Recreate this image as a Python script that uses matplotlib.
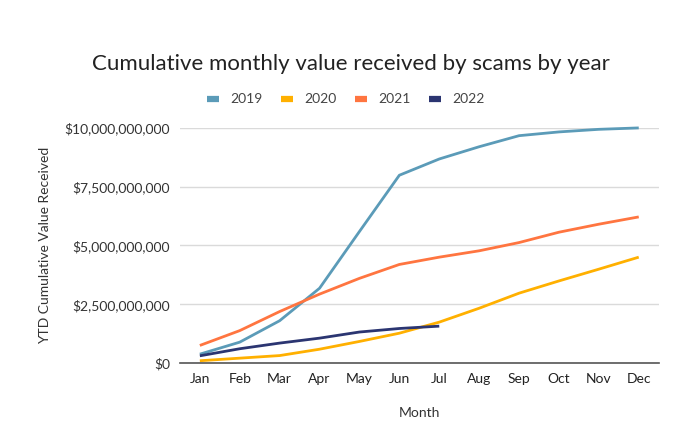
import matplotlib
matplotlib.use("Agg")
import matplotlib.pyplot as plt
from matplotlib.ticker import FuncFormatter

months = ["Jan", "Feb", "Mar", "Apr", "May", "Jun", "Jul", "Aug", "Sep", "Oct", "Nov", "Dec"]
v2019 = [0.38e9, 0.89e9, 1.80e9, 3.18e9, 5.59e9, 7.98e9, 8.67e9, 9.19e9, 9.66e9, 9.82e9, 9.93e9, 9.99e9]
v2020 = [0.10e9, 0.21e9, 0.32e9, 0.59e9, 0.92e9, 1.27e9, 1.74e9, 2.33e9, 2.97e9, 3.49e9, 3.99e9, 4.50e9]
v2021 = [0.75e9, 1.38e9, 2.19e9, 2.93e9, 3.60e9, 4.19e9, 4.50e9, 4.77e9, 5.12e9, 5.56e9, 5.90e9, 6.21e9]
v2022 = [0.31e9, 0.61e9, 0.85e9, 1.06e9, 1.32e9, 1.47e9, 1.57e9]
series = [("2019", v2019, "#5B9BB8"), ("2020", v2020, "#FFB000"),
          ("2021", v2021, "#FF7540"), ("2022", v2022, "#2B3571")]
yticks = [0, 2.5e9, 5e9, 7.5e9, 10e9]

plt.rcParams['font.family'] = ['Lato', 'DejaVu Sans']
fig = plt.figure(figsize=(7, 4.38), dpi=100)
ax = fig.add_axes([0.257, 0.171, 0.684, 0.5375])

for name, vals, col in series:
    ax.plot(range(len(vals)), vals, color=col, lw=2, label=name, clip_on=False,
            solid_capstyle='butt', solid_joinstyle='round')

ax.set_xlim(-0.5, 11.5)
ax.set_ylim(0, 1e10)
ax.set_xticks(range(len(months)))
ax.set_xticklabels(months)
ax.set_yticks(yticks)
ax.yaxis.set_major_formatter(FuncFormatter(lambda v, p: "${:,.0f}".format(v)))
ax.grid(axis='y', color='#DADADA', lw=1)
ax.set_axisbelow(True)
for s in ['top', 'right', 'left']:
    ax.spines[s].set_visible(False)
ax.spines['bottom'].set_color('#555555')
ax.spines['bottom'].set_linewidth(1.2)
ax.tick_params(axis='x', length=0, pad=7, labelsize=10, colors='#222222')
ax.tick_params(axis='y', length=0, pad=7, labelsize=10, colors='#333333')
ax.set_xlabel("Month", fontsize=10, color='#333333', labelpad=16)
ax.set_ylabel("YTD Cumulative Value Received", fontsize=10, color='#333333', labelpad=10)

fig.text(0.501, 0.853, "Cumulative monthly value received by scams by year",
         ha='center', va='center', fontsize=16, color='#222222')
fig.legend(loc='center', bbox_to_anchor=(0.494, 0.774), ncol=4, frameon=False,
           fontsize=10, handlelength=0.9, handleheight=0.5, columnspacing=1.3,
           handletextpad=0.8, labelcolor='#444444')
leg = fig.legends[0]
for h in leg.get_lines():
    h.set_linewidth(4.5)

fig.savefig("out.png", dpi=100)
